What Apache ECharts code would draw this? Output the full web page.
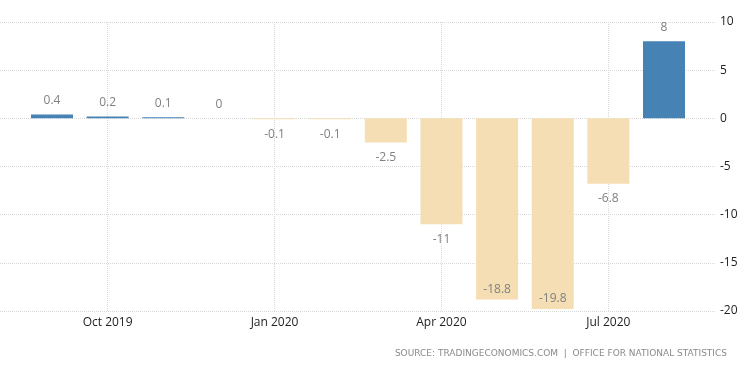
<!DOCTYPE html>
<html>
<head>
<meta charset="utf-8">
<script src="https://cdn.jsdelivr.net/npm/echarts@6/dist/echarts.min.js"></script>
<style>html,body{margin:0;padding:0;background:#fff;}#c{width:750px;height:373px;}</style>
</head>
<body>
<div id="c"></div>
<script>
var categories = ['Sep 2019','Oct 2019','Nov 2019','Dec 2019','Jan 2020','Feb 2020','Mar 2020','Apr 2020','May 2020','Jun 2020','Jul 2020','Aug 2020'];
var values = [0.4, 0.2, 0.1, 0, -0.1, -0.1, -2.5, -11, -18.8, -19.8, -6.8, 8];
var shownLabels = ['Oct 2019','Jan 2020','Apr 2020','Jul 2020'];
var yTicks = [-20, -15, -10, -5, 0, 5, 10];
var sourceText = 'SOURCE: TRADINGECONOMICS.COM  |  OFFICE FOR NATIONAL STATISTICS';

var chart = echarts.init(document.getElementById('c'), null, {renderer: 'canvas'});
var gridTop = 22, gridBottom = 62;
var isShown = function (idx) { return shownLabels.indexOf(categories[idx]) >= 0; };

var barData = values.map(function (v) {
  var inside = v < -15;
  return {
    value: v,
    itemStyle: { color: v > 0 ? '#4682B4' : '#F5DEB3' },
    label: {
      position: v >= 0 ? 'top' : (inside ? 'insideBottom' : 'bottom'),
      distance: v >= 0 ? 8 : (inside ? 4 : 9)
    }
  };
});

chart.setOption({
  animation: false,
  backgroundColor: '#fff',
  grid: [
    { left: 0, right: 35, top: gridTop, bottom: gridBottom },
    { left: 52, right: 86, top: gridTop, bottom: gridBottom }
  ],
  xAxis: [
    { gridIndex: 0, type: 'value', min: 0, max: 1, show: false },
    {
      gridIndex: 1, type: 'category', data: categories, boundaryGap: false,
      axisLine: { show: false }, axisTick: { show: false },
      axisLabel: {
        interval: function (i) { return isShown(i); },
        color: '#222', fontSize: 12, fontFamily: 'Open Sans', margin: 6
      },
      splitLine: {
        show: true,
        interval: function (i) { return isShown(i); },
        lineStyle: { color: '#d8d8d8', type: [1, 1], width: 1 }
      }
    }
  ],
  yAxis: [
    {
      gridIndex: 0, type: 'value', position: 'right', min: yTicks[0], max: yTicks[yTicks.length - 1], interval: 5,
      axisLine: { show: false }, axisTick: { show: false },
      axisLabel: { color: '#222', fontSize: 12, fontFamily: 'Open Sans', margin: 5 },
      splitLine: { show: true, lineStyle: { color: '#d8d8d8', type: [1, 1], width: 1 } }
    },
    {
      gridIndex: 1, type: 'value', min: yTicks[0], max: yTicks[yTicks.length - 1], interval: 5, show: false
    }
  ],
  series: [{
    type: 'bar', xAxisIndex: 1, yAxisIndex: 1, barWidth: 42, clip: false,
    data: barData,
    label: { show: true, color: '#808080', fontSize: 12, fontFamily: 'Open Sans' }
  }],
  graphic: [{
    type: 'text', right: 23, top: 349,
    style: { text: sourceText, fill: '#8a8a8a', font: '9px "DejaVu Sans"' }
  }]
});
</script>
</body>
</html>
